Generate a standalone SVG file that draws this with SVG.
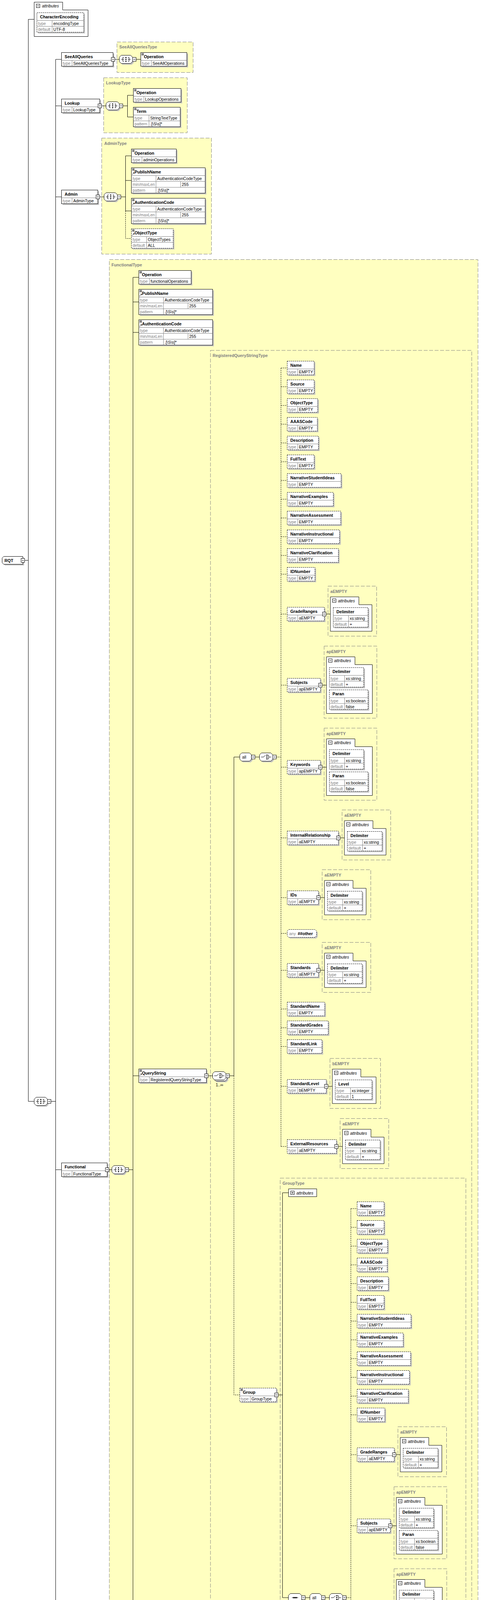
<svg xmlns="http://www.w3.org/2000/svg" width="1242" height="5677" viewBox="0 0 1242 5677">
<style>
.sh{fill:#c0c0c0;stroke:none}
.w{fill:#fff;stroke:#000;stroke-width:1}
.wd{fill:#fff;stroke:#000;stroke-width:1;stroke-dasharray:3,2}
.rl{fill:none;stroke:#808080;stroke-width:1}
.ty{fill:#ffffc0;stroke:#808080;stroke-width:1;stroke-dasharray:10,4}
.ln{fill:none;stroke:#000;stroke-width:1}
.ld{fill:none;stroke:#000;stroke-width:1;stroke-dasharray:3,2}
text{font-family:"Liberation Sans",Arial,Helvetica,sans-serif;font-size:10.5px}
.n{font-weight:bold;font-size:10.7px;fill:#000}
.l{fill:#808080}
.v{fill:#000}
.t{font-weight:bold;font-size:10.7px;fill:#808080}
.i{font-style:italic;fill:#000}
.f{font-weight:bold;font-size:12px;fill:#444}
</style>
<defs>
<path id="o34" d="M5,0H29L34,5V16L29,21H5L0,16V5Z"/>
<path id="o30" d="M5,0H25L30,5V16L25,21H5L0,16V5Z"/>
<path id="oany" d="M4,0H71L75,4V16L71,20H4L0,16V4Z"/>
<g id="xb"><rect width="9" height="10" fill="#fff" stroke="#000"/><path d="M2,5H7" stroke="#000"/></g>
<g id="mb"><rect width="9" height="9" fill="#fff" stroke="#000"/><path d="M2,4.5H7" stroke="#000"/></g>
<g id="pb"><rect width="9" height="9" fill="#fff" stroke="#000"/><path d="M2,4.5H7M4.5,2V7" stroke="#000"/></g>
<path id="eq" d="M2,2.5H8M2,4.5H8M2,6.5H8" stroke="#000" fill="none"/>
<g id="ar"><path d="M2,17.5L5.5,14" stroke="#000" fill="none"/><path d="M4,12H7.5V15.5Z" fill="#000"/></g>
<g id="ya"><path d="M5,10.5H12M12,5.5H9V15.5H12M22,5.5H25V15.5H22M22,10.5H29" fill="none" stroke="#000"/><rect x="15.5" y="4.5" width="3" height="2.5"/><rect x="15.5" y="9.25" width="3" height="2.5"/><rect x="15.5" y="14" width="3" height="2.5"/></g>
<g id="ys"><path d="M9,10.5H25" fill="none" stroke="#000"/><rect x="12" y="9" width="3" height="3"/><rect x="15.5" y="9" width="3" height="3"/><rect x="19" y="9" width="3" height="3"/></g>
<g id="yc"><path d="M4,10.5H10.5L15.5,5.5M21,5.5H23.5V15.5H21M23.5,10.5H30" fill="none" stroke="#000"/><rect x="17.5" y="4.5" width="3" height="2.5"/><rect x="17.5" y="9.25" width="3" height="2.5"/><rect x="17.5" y="14" width="3" height="2.5"/></g>
</defs>
<rect width="1242" height="5677" fill="#fff"/>

<g id="types">
<g id="t-SeeAllQueriesType"><rect class="ty" x="299.5" y="107.5" width="195" height="78"/><text class="t" x="305.5" y="124">SeeAllQueriesType</text></g>
<g id="t-LookupType"><rect class="ty" x="265.5" y="199" width="214" height="141"/><text class="t" x="271.5" y="215.5">LookupType</text></g>
<g id="t-AdminType"><rect class="ty" x="260.5" y="353.5" width="281" height="297"/><text class="t" x="267" y="370.5">AdminType</text></g>
<g id="t-FunctionalType"><rect class="ty" x="280" y="664.5" width="944" height="4656"/><text class="t" x="285.5" y="681.5">FunctionalType</text></g>
<g id="t-RegisteredQueryStringType"><rect class="ty" x="539" y="897" width="669" height="4281.5"/><text class="t" x="544.5" y="914">RegisteredQueryStringType</text></g>
<g id="t-list1">
<rect class="ty" x="840" y="1500.5" width="124.5" height="128"/><text class="t" x="846" y="1518">aEMPTY</text>
<rect class="ty" x="830" y="1654" width="135" height="184.5"/><text class="t" x="836" y="1671.5">apEMPTY</text>
<rect class="ty" x="830" y="1864" width="135" height="184.5"/><text class="t" x="836" y="1881.5">apEMPTY</text>
<rect class="ty" x="876" y="2073.5" width="124.5" height="128"/><text class="t" x="882" y="2091">aEMPTY</text>
<rect class="ty" x="825" y="2226.5" width="124.5" height="128"/><text class="t" x="831" y="2244">aEMPTY</text>
<rect class="ty" x="825" y="2412.5" width="124.5" height="128"/><text class="t" x="831" y="2430">aEMPTY</text>
<rect class="ty" x="845" y="2709.5" width="129.5" height="128"/><text class="t" x="851" y="2727">bEMPTY</text>
<rect class="ty" x="871" y="2863.5" width="124.5" height="128"/><text class="t" x="877" y="2881">aEMPTY</text>
</g>
<g id="t-GroupType"><rect class="ty" x="717.5" y="3016" width="475.5" height="2150"/><text class="t" x="723.5" y="3033">GroupType</text></g>
<g id="t-list2" transform="translate(179,2152)">
<rect class="ty" x="840" y="1500.5" width="124.5" height="128"/><text class="t" x="846" y="1518">aEMPTY</text>
<rect class="ty" x="830" y="1654" width="135" height="184.5"/><text class="t" x="836" y="1671.5">apEMPTY</text>
<rect class="ty" x="830" y="1864" width="135" height="184.5"/><text class="t" x="836" y="1881.5">apEMPTY</text>
<rect class="ty" x="876" y="2073.5" width="124.5" height="128"/><text class="t" x="882" y="2091">aEMPTY</text>
<rect class="ty" x="825" y="2226.5" width="124.5" height="128"/><text class="t" x="831" y="2244">aEMPTY</text>
<rect class="ty" x="825" y="2412.5" width="124.5" height="128"/><text class="t" x="831" y="2430">aEMPTY</text>
<rect class="ty" x="845" y="2709.5" width="129.5" height="128"/><text class="t" x="851" y="2727">bEMPTY</text>
<rect class="ty" x="871" y="2863.5" width="124.5" height="128"/><text class="t" x="877" y="2881">aEMPTY</text>
</g>
<g id="t-AuthenticationCode"><rect class="ty" x="301" y="5333.5" width="280.5" height="312.5"/><text class="t" x="307.5" y="5351">AuthenticationCode</text></g>
</g>

<g id="connectors">
<path class="ln" d="M63,1434.5H72.5M72.5,49.5V2819.5M72.5,49.5H87.5M72.5,2819.5H87.5M130.5,2819.5H142.5M142.5,152V5488M142.5,152H157.5M142.5,271H157.5M142.5,504H157.5M142.5,2994.5H157.5M142.5,5488H157.5"/>
<path class="ln" d="M294,152H305.5M348.5,152H360.5"/>
<path class="ln" d="M260,271H271.5M314.5,271H326.5M326.5,244V299.5M326.5,244H341.5M326.5,299.5H341.5"/>
<path class="ln" d="M255,504H266.5M309.5,504H321.5M321.5,399V540M321.5,399H336.5M321.5,462H336.5M321.5,540H336.5"/>
<path class="ld" d="M321.5,540V610.5H336.5"/>
<path class="ln" d="M279,2994.5H286.5M329.5,2994.5H340.5M340.5,710V5279.5M340.5,710H355.5M340.5,773H355.5M340.5,851H355.5M340.5,2754H355.5M340.5,5279.5H355.5"/>
<path class="ld" d="M340.5,5216.5H355.5"/>
<path class="ln" d="M533,2754H544.5M587.5,2754H599M599,1938V2754M599,1938H614M653,1938H664.5"/>
<path class="ld" d="M599,2754V3571H614M707.5,1938H719.5"/>
<path class="ln" d="M712.5,3571H723.5M723.5,3053.5V4090M723.5,3053.5H739M723.5,4090H738.5M781.5,4090H793.5M832.5,4090H843.5"/>
<path class="ld" d="M886.5,4090H898.5"/>
<g id="c-list1">
<path class="ld" d="M719.5,942V2935M719.5,942H735.5M719.5,990H735.5M719.5,1038H735.5M719.5,1086H735.5M719.5,1134H735.5M719.5,1182H735.5M719.5,1230H735.5M719.5,1278H735.5M719.5,1326H735.5M719.5,1374H735.5M719.5,1422H735.5M719.5,1470H735.5M719.5,1572H735.5M719.5,1754H735.5M719.5,1964H735.5M719.5,2145H735.5M719.5,2298H735.5M719.5,2389.5H735.5M719.5,2484H735.5M719.5,2583H735.5M719.5,2631H735.5M719.5,2679H735.5M719.5,2781H735.5M719.5,2935H735.5"/>
<path class="ln" d="M835,1572H846M825,1754H836M825,1964H836M871,2145H882M820,2298H831M820,2484H831M840,2781H851M866,2935H877"/>
</g>
<g id="c-list2" transform="translate(179,2152)">
<path class="ld" d="M719.5,942V2935M719.5,942H735.5M719.5,990H735.5M719.5,1038H735.5M719.5,1086H735.5M719.5,1134H735.5M719.5,1182H735.5M719.5,1230H735.5M719.5,1278H735.5M719.5,1326H735.5M719.5,1374H735.5M719.5,1422H735.5M719.5,1470H735.5M719.5,1572H735.5M719.5,1754H735.5M719.5,1964H735.5M719.5,2145H735.5M719.5,2298H735.5M719.5,2389.5H735.5M719.5,2484H735.5M719.5,2583H735.5M719.5,2631H735.5M719.5,2679H735.5M719.5,2781H735.5M719.5,2935H735.5"/>
<path class="ln" d="M835,1572H846M825,1754H836M825,1964H836M871,2145H882M820,2298H831M820,2484H831M840,2781H851M866,2935H877"/>
</g>
<path class="ln" d="M294,5488H306.5M349.5,5488H361.5M361.5,5379V5598M361.5,5379H377.5M361.5,5442H377.5M361.5,5520H377.5M361.5,5598H377.5"/>
</g>

<g id="nodes">
<g id="n-RQT" transform="translate(5.5,1424.5)"><path class="sh" d="M7,3H56V23H7L3,19V7Z"/><path class="w" d="M4,0H53V20H4L0,16V4Z"/><text class="n" x="6" y="14">RQT</text><use href="#xb" x="48.5" y="5"/></g>
<g id="n-RQT-attributes" transform="translate(87.5,5.5)"><path class="w" d="M0,0H73V20H138V88H0Z"/><use href="#mb" x="5.5" y="5"/><text class="i" x="20" y="13.5">attributes</text></g>
<g id="n-CharacterEncoding" transform="translate(94.5,32.5)"><rect class="sh" x="3" y="3" width="120" height="50"/><rect class="wd" width="120" height="50"/><path class="rl" d="M0,20H120M0,35H120M39,20V50"/><text class="n" x="8" y="14">CharacterEncoding</text><text class="l" x="3" y="31.5">type</text><text class="v" x="42" y="31.5">encodingType</text><text class="l" x="3" y="46.5">default</text><text class="v" x="42" y="46.5">UTF-8</text></g>
<g id="n-RQT-model" transform="translate(87.5,2809)"><use href="#o34" class="sh" x="3" y="3"/><use href="#o34" class="w"/><use href="#ya"/><use href="#xb" x="34" y="5.5"/></g>

<g id="n-SeeAllQueries" transform="translate(157.5,134.5)"><rect class="sh" x="3" y="3" width="132" height="35"/><rect class="w" width="132" height="35"/><path class="rl" d="M0,20H132M27,20V35"/><text class="n" x="8" y="14">SeeAllQueries</text><text class="l" x="3" y="31.5">type</text><text class="v" x="30" y="31.5">SeeAllQueriesType</text><use href="#xb" x="127.5" y="12.5"/></g>
<g id="n-SeeAllQueries-model" transform="translate(305.5,141.5)"><use href="#o34" class="sh" x="3" y="3"/><use href="#o34" class="w"/><use href="#ya"/><use href="#xb" x="34" y="5.5"/></g>
<g id="n-SeeAllQueries-Operation" transform="translate(360.5,134.5)"><rect class="sh" x="3" y="3" width="118" height="35"/><rect class="w" width="118" height="35"/><path class="rl" d="M0,20H118M27,20V35"/><use href="#eq"/><text class="n" x="8" y="14">Operation</text><text class="l" x="3" y="31.5">type</text><text class="v" x="30" y="31.5">SeeAllOperations</text></g>

<g id="n-Lookup" transform="translate(157.5,253.5)"><rect class="sh" x="3" y="3" width="98" height="35"/><rect class="w" width="98" height="35"/><path class="rl" d="M0,20H98M27,20V35"/><text class="n" x="8" y="14">Lookup</text><text class="l" x="3" y="31.5">type</text><text class="v" x="30" y="31.5">LookupType</text><use href="#xb" x="93.5" y="12.5"/></g>
<g id="n-Lookup-model" transform="translate(271.5,260.5)"><use href="#o34" class="sh" x="3" y="3"/><use href="#o34" class="w"/><use href="#ya"/><use href="#xb" x="34" y="5.5"/></g>
<g id="n-Lookup-Operation" transform="translate(341.5,226.5)"><rect class="sh" x="3" y="3" width="122" height="35"/><rect class="w" width="122" height="35"/><path class="rl" d="M0,20H122M27,20V35"/><use href="#eq"/><text class="n" x="8" y="14">Operation</text><text class="l" x="3" y="31.5">type</text><text class="v" x="30" y="31.5">LookupOperations</text></g>
<g id="n-Lookup-Term" transform="translate(341.5,274.5)"><rect class="sh" x="3" y="3" width="120" height="50"/><rect class="w" width="120" height="50"/><path class="rl" d="M0,20H120M0,35H120M40,20V50"/><use href="#eq"/><text class="n" x="8" y="14">Term</text><text class="l" x="3" y="31.5">type</text><text class="v" x="43" y="31.5">StringTextType</text><text class="l" x="3" y="46.5">pattern</text><text class="v" x="43" y="46.5">.[\S\s]*</text></g>

<g id="n-Admin" transform="translate(157.5,486.5)"><rect class="sh" x="3" y="3" width="93" height="35"/><rect class="w" width="93" height="35"/><path class="rl" d="M0,20H93M27,20V35"/><text class="n" x="8" y="14">Admin</text><text class="l" x="3" y="31.5">type</text><text class="v" x="30" y="31.5">AdminType</text><use href="#xb" x="88.5" y="12.5"/></g>
<g id="n-Admin-model" transform="translate(266.5,493.5)"><use href="#o34" class="sh" x="3" y="3"/><use href="#o34" class="w"/><use href="#ya"/><use href="#xb" x="34" y="5.5"/></g>
<g id="n-Admin-Operation" transform="translate(336.5,381.5)"><rect class="sh" x="3" y="3" width="115" height="35"/><rect class="w" width="115" height="35"/><path class="rl" d="M0,20H115M27,20V35"/><use href="#eq"/><text class="n" x="8" y="14">Operation</text><text class="l" x="3" y="31.5">type</text><text class="v" x="30" y="31.5">adminOperations</text></g>
<g id="n-Admin-PublishName" transform="translate(336.5,429.5)"><rect class="sh" x="3" y="3" width="189" height="65"/><rect class="w" width="189" height="65"/><path class="rl" d="M0,20H189M0,35H189M0,50H189M63,20V65M126,35V50"/><use href="#eq"/><use href="#ar"/><text class="n" x="8" y="14">PublishName</text><text class="l" x="3" y="31.5">type</text><text class="v" x="66" y="31.5">AuthenticationCodeType</text><text class="l" x="3" y="46.5">min/maxLen</text><text class="v" x="129" y="46.5">255</text><text class="l" x="3" y="61.5">pattern</text><text class="v" x="66" y="61.5">.[\S\s]*</text></g>
<g id="n-Admin-AuthenticationCode" transform="translate(336.5,507.5)"><rect class="sh" x="3" y="3" width="189" height="65"/><rect class="w" width="189" height="65"/><path class="rl" d="M0,20H189M0,35H189M0,50H189M63,20V65M126,35V50"/><use href="#eq"/><use href="#ar"/><text class="n" x="8" y="14">AuthenticationCode</text><text class="l" x="3" y="31.5">type</text><text class="v" x="66" y="31.5">AuthenticationCodeType</text><text class="l" x="3" y="46.5">min/maxLen</text><text class="v" x="129" y="46.5">255</text><text class="l" x="3" y="61.5">pattern</text><text class="v" x="66" y="61.5">.[\S\s]*</text></g>
<g id="n-Admin-ObjectType" transform="translate(336.5,585.5)"><rect class="sh" x="3" y="3" width="107" height="50"/><rect class="wd" width="107" height="50"/><path class="rl" d="M0,20H107M0,35H107M39,20V50"/><use href="#eq"/><use href="#ar"/><text class="n" x="8" y="14">ObjectType</text><text class="l" x="3" y="31.5">type</text><text class="v" x="42" y="31.5">ObjectTypes</text><text class="l" x="3" y="46.5">default</text><text class="v" x="42" y="46.5">ALL</text></g>

<g id="n-Functional" transform="translate(157.5,2977)"><rect class="sh" x="3" y="3" width="117" height="35"/><rect class="w" width="117" height="35"/><path class="rl" d="M0,20H117M27,20V35"/><text class="n" x="8" y="14">Functional</text><text class="l" x="3" y="31.5">type</text><text class="v" x="30" y="31.5">FunctionalType</text><use href="#xb" x="112.5" y="12.5"/></g>
<g id="n-Functional-model" transform="translate(286.5,2984)"><use href="#o34" class="sh" x="3" y="3"/><use href="#o34" class="w"/><use href="#ya"/><use href="#xb" x="34" y="5.5"/></g>
<g id="n-Functional-Operation" transform="translate(355.5,692.5)"><rect class="sh" x="3" y="3" width="134" height="35"/><rect class="w" width="134" height="35"/><path class="rl" d="M0,20H134M27,20V35"/><use href="#eq"/><text class="n" x="8" y="14">Operation</text><text class="l" x="3" y="31.5">type</text><text class="v" x="30" y="31.5">functionalOperations</text></g>
<g id="n-Functional-PublishName" transform="translate(355.5,740.5)"><rect class="sh" x="3" y="3" width="189" height="65"/><rect class="w" width="189" height="65"/><path class="rl" d="M0,20H189M0,35H189M0,50H189M63,20V65M126,35V50"/><use href="#eq"/><use href="#ar"/><text class="n" x="8" y="14">PublishName</text><text class="l" x="3" y="31.5">type</text><text class="v" x="66" y="31.5">AuthenticationCodeType</text><text class="l" x="3" y="46.5">min/maxLen</text><text class="v" x="129" y="46.5">255</text><text class="l" x="3" y="61.5">pattern</text><text class="v" x="66" y="61.5">.[\S\s]*</text></g>
<g id="n-Functional-AuthenticationCode" transform="translate(355.5,818.5)"><rect class="sh" x="3" y="3" width="189" height="65"/><rect class="w" width="189" height="65"/><path class="rl" d="M0,20H189M0,35H189M0,50H189M63,20V65M126,35V50"/><use href="#eq"/><use href="#ar"/><text class="n" x="8" y="14">AuthenticationCode</text><text class="l" x="3" y="31.5">type</text><text class="v" x="66" y="31.5">AuthenticationCodeType</text><text class="l" x="3" y="46.5">min/maxLen</text><text class="v" x="129" y="46.5">255</text><text class="l" x="3" y="61.5">pattern</text><text class="v" x="66" y="61.5">.[\S\s]*</text></g>
<g id="n-QueryString" transform="translate(355.5,2736.5)"><rect class="sh" x="3" y="3" width="173" height="35"/><rect class="w" width="173" height="35"/><path class="rl" d="M0,20H173M27,20V35"/><use href="#eq"/><use href="#ar"/><text class="n" x="8" y="14">QueryString</text><text class="l" x="3" y="31.5">type</text><text class="v" x="30" y="31.5">RegisteredQueryStringType</text><use href="#xb" x="168.5" y="12.5"/></g>
<g id="n-QueryHost" transform="translate(355.5,5191.5)"><rect class="sh" x="3" y="3" width="121" height="50"/><rect class="wd" width="121" height="50"/><path class="rl" d="M0,20H121M0,35H121M40,20V50"/><use href="#eq"/><use href="#ar"/><text class="n" x="8" y="14">QueryHost</text><text class="l" x="3" y="31.5">type</text><text class="v" x="43" y="31.5">StringTextType</text><text class="l" x="3" y="46.5">pattern</text><text class="v" x="43" y="46.5">.[\S\s]*</text></g>
<g id="n-Functional-ObjectType" transform="translate(355.5,5254.5)"><rect class="sh" x="3" y="3" width="107" height="50"/><rect class="w" width="107" height="50"/><path class="rl" d="M0,20H107M0,35H107M39,20V50"/><use href="#eq"/><use href="#ar"/><text class="n" x="8" y="14">ObjectType</text><text class="l" x="3" y="31.5">type</text><text class="v" x="42" y="31.5">ObjectTypes</text><text class="l" x="3" y="46.5">default</text><text class="v" x="42" y="46.5">ALL</text></g>

<g id="n-QueryString-choice" transform="translate(544.5,2743.5)"><use href="#o34" class="sh" x="6" y="6"/><use href="#o34" class="w" x="3" y="3"/><use href="#o34" class="w"/><use href="#yc"/><use href="#xb" x="34" y="5.5"/><text class="v" x="8" y="37.5">1..∞</text></g>
<g id="q1-all" transform="translate(614,1927.5)"><use href="#o30" class="sh" x="3" y="3"/><use href="#o30" class="w"/><text class="v" x="6" y="14.5">all</text><use href="#xb" x="30" y="5.5"/></g>
<g id="q1-choice" transform="translate(664.5,1927.5)"><use href="#o34" class="sh" x="3" y="3"/><use href="#o34" class="w"/><use href="#yc"/><use href="#xb" x="34" y="5.5"/></g>

<g id="list1">
<g id="q1-Name" transform="translate(735.5,924.5)"><rect class="sh" x="3" y="3" width="69" height="35"/><rect class="wd" width="69" height="35"/><path class="rl" d="M0,20H69M27,20V35"/><text class="n" x="8" y="14">Name</text><text class="l" x="3" y="31.5">type</text><text class="v" x="30" y="31.5">EMPTY</text></g>
<g id="q1-Source" transform="translate(735.5,972.5)"><rect class="sh" x="3" y="3" width="69" height="35"/><rect class="wd" width="69" height="35"/><path class="rl" d="M0,20H69M27,20V35"/><text class="n" x="8" y="14">Source</text><text class="l" x="3" y="31.5">type</text><text class="v" x="30" y="31.5">EMPTY</text></g>
<g id="q1-ObjectType" transform="translate(735.5,1020.5)"><rect class="sh" x="3" y="3" width="78" height="35"/><rect class="wd" width="78" height="35"/><path class="rl" d="M0,20H78M27,20V35"/><text class="n" x="8" y="14">ObjectType</text><text class="l" x="3" y="31.5">type</text><text class="v" x="30" y="31.5">EMPTY</text></g>
<g id="q1-AAASCode" transform="translate(735.5,1068.5)"><rect class="sh" x="3" y="3" width="77" height="35"/><rect class="wd" width="77" height="35"/><path class="rl" d="M0,20H77M27,20V35"/><text class="n" x="8" y="14">AAASCode</text><text class="l" x="3" y="31.5">type</text><text class="v" x="30" y="31.5">EMPTY</text></g>
<g id="q1-Description" transform="translate(735.5,1116.5)"><rect class="sh" x="3" y="3" width="80" height="35"/><rect class="wd" width="80" height="35"/><path class="rl" d="M0,20H80M27,20V35"/><text class="n" x="8" y="14">Description</text><text class="l" x="3" y="31.5">type</text><text class="v" x="30" y="31.5">EMPTY</text></g>
<g id="q1-FullText" transform="translate(735.5,1164.5)"><rect class="sh" x="3" y="3" width="69" height="35"/><rect class="wd" width="69" height="35"/><path class="rl" d="M0,20H69M27,20V35"/><text class="n" x="8" y="14">FullText</text><text class="l" x="3" y="31.5">type</text><text class="v" x="30" y="31.5">EMPTY</text></g>
<g id="q1-NarrativeStudentIdeas" transform="translate(735.5,1212.5)"><rect class="sh" x="3" y="3" width="138" height="35"/><rect class="wd" width="138" height="35"/><path class="rl" d="M0,20H138M27,20V35"/><text class="n" x="8" y="14">NarrativeStudentIdeas</text><text class="l" x="3" y="31.5">type</text><text class="v" x="30" y="31.5">EMPTY</text></g>
<g id="q1-NarrativeExamples" transform="translate(735.5,1260.5)"><rect class="sh" x="3" y="3" width="118" height="35"/><rect class="wd" width="118" height="35"/><path class="rl" d="M0,20H118M27,20V35"/><text class="n" x="8" y="14">NarrativeExamples</text><text class="l" x="3" y="31.5">type</text><text class="v" x="30" y="31.5">EMPTY</text></g>
<g id="q1-NarrativeAssessment" transform="translate(735.5,1308.5)"><rect class="sh" x="3" y="3" width="137" height="35"/><rect class="wd" width="137" height="35"/><path class="rl" d="M0,20H137M27,20V35"/><text class="n" x="8" y="14">NarrativeAssessment</text><text class="l" x="3" y="31.5">type</text><text class="v" x="30" y="31.5">EMPTY</text></g>
<g id="q1-NarrativeInstructional" transform="translate(735.5,1356.5)"><rect class="sh" x="3" y="3" width="134" height="35"/><rect class="wd" width="134" height="35"/><path class="rl" d="M0,20H134M27,20V35"/><text class="n" x="8" y="14">NarrativeInstructional</text><text class="l" x="3" y="31.5">type</text><text class="v" x="30" y="31.5">EMPTY</text></g>
<g id="q1-NarrativeClarification" transform="translate(735.5,1404.5)"><rect class="sh" x="3" y="3" width="131" height="35"/><rect class="wd" width="131" height="35"/><path class="rl" d="M0,20H131M27,20V35"/><text class="n" x="8" y="14">NarrativeClarification</text><text class="l" x="3" y="31.5">type</text><text class="v" x="30" y="31.5">EMPTY</text></g>
<g id="q1-IDNumber" transform="translate(735.5,1452.5)"><rect class="sh" x="3" y="3" width="71" height="35"/><rect class="wd" width="71" height="35"/><path class="rl" d="M0,20H71M27,20V35"/><text class="n" x="8" y="14">IDNumber</text><text class="l" x="3" y="31.5">type</text><text class="v" x="30" y="31.5">EMPTY</text></g>

<g id="q1-GradeRanges" transform="translate(735.5,1554.5)"><rect class="sh" x="3" y="3" width="95" height="35"/><rect class="wd" width="95" height="35"/><path class="rl" d="M0,20H95M27,20V35"/><text class="n" x="8" y="14">GradeRanges</text><text class="l" x="3" y="31.5">type</text><text class="v" x="30" y="31.5">aEMPTY</text><use href="#xb" x="90.5" y="12.5"/></g>
<g id="q1-GradeRanges-attributes" transform="translate(830.5,1554.5)"><path class="w" d="M15.5,-26.5H88.5V-6.5H122V61.5H15.5Z"/><use href="#mb" x="21" y="-21.5"/><text class="i" x="35" y="-13">attributes</text></g>
<g id="q1-GradeRanges-Delimiter" transform="translate(853.5,1555.5)"><rect class="sh" x="3" y="3" width="89" height="50"/><rect class="wd" width="89" height="50"/><path class="rl" d="M0,20H89M0,35H89M39,20V50"/><text class="n" x="8" y="14">Delimiter</text><text class="l" x="3" y="31.5">type</text><text class="v" x="42" y="31.5">xs:string</text><text class="l" x="3" y="46.5">default</text><text class="v" x="42" y="46.5">+</text></g>

<g id="q1-Subjects" transform="translate(735.5,1736.5)"><rect class="sh" x="3" y="3" width="85" height="35"/><rect class="wd" width="85" height="35"/><path class="rl" d="M0,20H85M27,20V35"/><text class="n" x="8" y="14">Subjects</text><text class="l" x="3" y="31.5">type</text><text class="v" x="30" y="31.5">apEMPTY</text><use href="#xb" x="80.5" y="12.5"/></g>
<g id="q1-Subjects-attributes" transform="translate(820.5,1736.5)"><path class="w" d="M15.5,-55H88.5V-35H133V90H15.5Z"/><use href="#mb" x="21" y="-50"/><text class="i" x="35" y="-41.5">attributes</text></g>
<g id="q1-Subjects-Delimiter" transform="translate(843.5,1709)"><rect class="sh" x="3" y="3" width="88" height="50"/><rect class="wd" width="88" height="50"/><path class="rl" d="M0,20H88M0,35H88M39,20V50"/><text class="n" x="8" y="14">Delimiter</text><text class="l" x="3" y="31.5">type</text><text class="v" x="42" y="31.5">xs:string</text><text class="l" x="3" y="46.5">default</text><text class="v" x="42" y="46.5">+</text></g>
<g id="q1-Subjects-Paran" transform="translate(843.5,1766)"><rect class="sh" x="3" y="3" width="99" height="50"/><rect class="wd" width="99" height="50"/><path class="rl" d="M0,20H99M0,35H99M39,20V50"/><text class="n" x="8" y="14">Paran</text><text class="l" x="3" y="31.5">type</text><text class="v" x="42" y="31.5">xs:boolean</text><text class="l" x="3" y="46.5">default</text><text class="v" x="42" y="46.5">false</text></g>

<g id="q1-Keywords" transform="translate(735.5,1946.5)"><rect class="sh" x="3" y="3" width="85" height="35"/><rect class="wd" width="85" height="35"/><path class="rl" d="M0,20H85M27,20V35"/><text class="n" x="8" y="14">Keywords</text><text class="l" x="3" y="31.5">type</text><text class="v" x="30" y="31.5">apEMPTY</text><use href="#xb" x="80.5" y="12.5"/></g>
<g id="q1-Keywords-attributes" transform="translate(820.5,1946.5)"><path class="w" d="M15.5,-55H88.5V-35H133V90H15.5Z"/><use href="#mb" x="21" y="-50"/><text class="i" x="35" y="-41.5">attributes</text></g>
<g id="q1-Keywords-Delimiter" transform="translate(843.5,1919)"><rect class="sh" x="3" y="3" width="88" height="50"/><rect class="wd" width="88" height="50"/><path class="rl" d="M0,20H88M0,35H88M39,20V50"/><text class="n" x="8" y="14">Delimiter</text><text class="l" x="3" y="31.5">type</text><text class="v" x="42" y="31.5">xs:string</text><text class="l" x="3" y="46.5">default</text><text class="v" x="42" y="46.5">+</text></g>
<g id="q1-Keywords-Paran" transform="translate(843.5,1976)"><rect class="sh" x="3" y="3" width="99" height="50"/><rect class="wd" width="99" height="50"/><path class="rl" d="M0,20H99M0,35H99M39,20V50"/><text class="n" x="8" y="14">Paran</text><text class="l" x="3" y="31.5">type</text><text class="v" x="42" y="31.5">xs:boolean</text><text class="l" x="3" y="46.5">default</text><text class="v" x="42" y="46.5">false</text></g>

<g id="q1-InternalRelationship" transform="translate(735.5,2127.5)"><rect class="sh" x="3" y="3" width="131" height="35"/><rect class="wd" width="131" height="35"/><path class="rl" d="M0,20H131M27,20V35"/><text class="n" x="8" y="14">InternalRelationship</text><text class="l" x="3" y="31.5">type</text><text class="v" x="30" y="31.5">aEMPTY</text><use href="#xb" x="126.5" y="12.5"/></g>
<g id="q1-InternalRelationship-attributes" transform="translate(866.5,2127.5)"><path class="w" d="M15.5,-26.5H88.5V-6.5H122V61.5H15.5Z"/><use href="#mb" x="21" y="-21.5"/><text class="i" x="35" y="-13">attributes</text></g>
<g id="q1-InternalRelationship-Delimiter" transform="translate(889.5,2128.5)"><rect class="sh" x="3" y="3" width="89" height="50"/><rect class="wd" width="89" height="50"/><path class="rl" d="M0,20H89M0,35H89M39,20V50"/><text class="n" x="8" y="14">Delimiter</text><text class="l" x="3" y="31.5">type</text><text class="v" x="42" y="31.5">xs:string</text><text class="l" x="3" y="46.5">default</text><text class="v" x="42" y="46.5">+</text></g>

<g id="q1-IDs" transform="translate(735.5,2280.5)"><rect class="sh" x="3" y="3" width="80" height="35"/><rect class="wd" width="80" height="35"/><path class="rl" d="M0,20H80M27,20V35"/><text class="n" x="8" y="14">IDs</text><text class="l" x="3" y="31.5">type</text><text class="v" x="30" y="31.5">aEMPTY</text><use href="#xb" x="75.5" y="12.5"/></g>
<g id="q1-IDs-attributes" transform="translate(815.5,2280.5)"><path class="w" d="M15.5,-26.5H88.5V-6.5H122V61.5H15.5Z"/><use href="#mb" x="21" y="-21.5"/><text class="i" x="35" y="-13">attributes</text></g>
<g id="q1-IDs-Delimiter" transform="translate(838.5,2281.5)"><rect class="sh" x="3" y="3" width="89" height="50"/><rect class="wd" width="89" height="50"/><path class="rl" d="M0,20H89M0,35H89M39,20V50"/><text class="n" x="8" y="14">Delimiter</text><text class="l" x="3" y="31.5">type</text><text class="v" x="42" y="31.5">xs:string</text><text class="l" x="3" y="46.5">default</text><text class="v" x="42" y="46.5">+</text></g>

<g id="q1-any" transform="translate(735.5,2379.5)"><use href="#oany" class="sh" x="3" y="3"/><use href="#oany" class="wd"/><text class="l" x="5" y="14">any</text><text class="n" x="27" y="14">##other</text></g>

<g id="q1-Standards" transform="translate(735.5,2466.5)"><rect class="sh" x="3" y="3" width="80" height="35"/><rect class="wd" width="80" height="35"/><path class="rl" d="M0,20H80M27,20V35"/><text class="n" x="8" y="14">Standards</text><text class="l" x="3" y="31.5">type</text><text class="v" x="30" y="31.5">aEMPTY</text><use href="#xb" x="75.5" y="12.5"/></g>
<g id="q1-Standards-attributes" transform="translate(815.5,2466.5)"><path class="w" d="M15.5,-26.5H88.5V-6.5H122V61.5H15.5Z"/><use href="#mb" x="21" y="-21.5"/><text class="i" x="35" y="-13">attributes</text></g>
<g id="q1-Standards-Delimiter" transform="translate(838.5,2467.5)"><rect class="sh" x="3" y="3" width="89" height="50"/><rect class="wd" width="89" height="50"/><path class="rl" d="M0,20H89M0,35H89M39,20V50"/><text class="n" x="8" y="14">Delimiter</text><text class="l" x="3" y="31.5">type</text><text class="v" x="42" y="31.5">xs:string</text><text class="l" x="3" y="46.5">default</text><text class="v" x="42" y="46.5">+</text></g>

<g id="q1-StandardName" transform="translate(735.5,2565.5)"><rect class="sh" x="3" y="3" width="96" height="35"/><rect class="wd" width="96" height="35"/><path class="rl" d="M0,20H96M27,20V35"/><text class="n" x="8" y="14">StandardName</text><text class="l" x="3" y="31.5">type</text><text class="v" x="30" y="31.5">EMPTY</text></g>
<g id="q1-StandardGrades" transform="translate(735.5,2613.5)"><rect class="sh" x="3" y="3" width="105" height="35"/><rect class="wd" width="105" height="35"/><path class="rl" d="M0,20H105M27,20V35"/><text class="n" x="8" y="14">StandardGrades</text><text class="l" x="3" y="31.5">type</text><text class="v" x="30" y="31.5">EMPTY</text></g>
<g id="q1-StandardLink" transform="translate(735.5,2661.5)"><rect class="sh" x="3" y="3" width="89" height="35"/><rect class="wd" width="89" height="35"/><path class="rl" d="M0,20H89M27,20V35"/><text class="n" x="8" y="14">StandardLink</text><text class="l" x="3" y="31.5">type</text><text class="v" x="30" y="31.5">EMPTY</text></g>

<g id="q1-StandardLevel" transform="translate(735.5,2763.5)"><rect class="sh" x="3" y="3" width="100" height="35"/><rect class="wd" width="100" height="35"/><path class="rl" d="M0,20H100M27,20V35"/><text class="n" x="8" y="14">StandardLevel</text><text class="l" x="3" y="31.5">type</text><text class="v" x="30" y="31.5">bEMPTY</text><use href="#xb" x="95.5" y="12.5"/></g>
<g id="q1-StandardLevel-attributes" transform="translate(835.5,2763.5)"><path class="w" d="M15.5,-26.5H88.5V-6.5H127.5V61.5H15.5Z"/><use href="#mb" x="21" y="-21.5"/><text class="i" x="35" y="-13">attributes</text></g>
<g id="q1-StandardLevel-Level" transform="translate(858.5,2764.5)"><rect class="sh" x="3" y="3" width="94" height="50"/><rect class="wd" width="94" height="50"/><path class="rl" d="M0,20H94M0,35H94M39,20V50"/><text class="n" x="8" y="14">Level</text><text class="l" x="3" y="31.5">type</text><text class="v" x="42" y="31.5">xs:integer</text><text class="l" x="3" y="46.5">default</text><text class="v" x="42" y="46.5">1</text></g>

<g id="q1-ExternalResources" transform="translate(735.5,2917.5)"><rect class="sh" x="3" y="3" width="126" height="35"/><rect class="wd" width="126" height="35"/><path class="rl" d="M0,20H126M27,20V35"/><text class="n" x="8" y="14">ExternalResources</text><text class="l" x="3" y="31.5">type</text><text class="v" x="30" y="31.5">aEMPTY</text><use href="#xb" x="121.5" y="12.5"/></g>
<g id="q1-ExternalResources-attributes" transform="translate(861.5,2917.5)"><path class="w" d="M15.5,-26.5H88.5V-6.5H122V61.5H15.5Z"/><use href="#mb" x="21" y="-21.5"/><text class="i" x="35" y="-13">attributes</text></g>
<g id="q1-ExternalResources-Delimiter" transform="translate(884.5,2918.5)"><rect class="sh" x="3" y="3" width="89" height="50"/><rect class="wd" width="89" height="50"/><path class="rl" d="M0,20H89M0,35H89M39,20V50"/><text class="n" x="8" y="14">Delimiter</text><text class="l" x="3" y="31.5">type</text><text class="v" x="42" y="31.5">xs:string</text><text class="l" x="3" y="46.5">default</text><text class="v" x="42" y="46.5">+</text></g>
</g>

<g id="n-Group" transform="translate(614,3553.5)"><rect class="sh" x="3" y="3" width="94" height="35"/><rect class="wd" width="94" height="35"/><path class="rl" d="M0,20H94M27,20V35"/><use href="#eq"/><text class="n" x="8" y="14">Group</text><text class="l" x="3" y="31.5">type</text><text class="v" x="30" y="31.5">GroupType</text><use href="#xb" x="89.5" y="12.5"/></g>
<g id="n-Group-attributes" transform="translate(739,3043.5)"><rect class="w" width="72" height="20"/><use href="#pb" x="5.5" y="5.5"/><text class="i" x="20" y="14.5">attributes</text></g>
<g id="q2-sequence" transform="translate(738.5,4079.5)"><use href="#o34" class="sh" x="3" y="3"/><use href="#o34" class="w"/><use href="#ys"/><use href="#xb" x="34" y="5.5"/></g>
<g id="q2-all" transform="translate(793.5,4079.5)"><use href="#o30" class="sh" x="6" y="6"/><use href="#o30" class="w" x="3" y="3"/><use href="#o30" class="w"/><text class="v" x="6" y="14.5">all</text><use href="#xb" x="30" y="5.5"/><text class="v" x="8.5" y="37.5">1..∞</text></g>
<g id="q2-choice" transform="translate(843.5,4079.5)"><use href="#o34" class="sh" x="3" y="3"/><use href="#o34" class="w"/><use href="#yc"/><use href="#xb" x="34" y="5.5"/></g>

<g id="list2" transform="translate(179,2152)">
<g id="q2-Name" transform="translate(735.5,924.5)"><rect class="sh" x="3" y="3" width="69" height="35"/><rect class="wd" width="69" height="35"/><path class="rl" d="M0,20H69M27,20V35"/><text class="n" x="8" y="14">Name</text><text class="l" x="3" y="31.5">type</text><text class="v" x="30" y="31.5">EMPTY</text></g>
<g id="q2-Source" transform="translate(735.5,972.5)"><rect class="sh" x="3" y="3" width="69" height="35"/><rect class="wd" width="69" height="35"/><path class="rl" d="M0,20H69M27,20V35"/><text class="n" x="8" y="14">Source</text><text class="l" x="3" y="31.5">type</text><text class="v" x="30" y="31.5">EMPTY</text></g>
<g id="q2-ObjectType" transform="translate(735.5,1020.5)"><rect class="sh" x="3" y="3" width="78" height="35"/><rect class="wd" width="78" height="35"/><path class="rl" d="M0,20H78M27,20V35"/><text class="n" x="8" y="14">ObjectType</text><text class="l" x="3" y="31.5">type</text><text class="v" x="30" y="31.5">EMPTY</text></g>
<g id="q2-AAASCode" transform="translate(735.5,1068.5)"><rect class="sh" x="3" y="3" width="77" height="35"/><rect class="wd" width="77" height="35"/><path class="rl" d="M0,20H77M27,20V35"/><text class="n" x="8" y="14">AAASCode</text><text class="l" x="3" y="31.5">type</text><text class="v" x="30" y="31.5">EMPTY</text></g>
<g id="q2-Description" transform="translate(735.5,1116.5)"><rect class="sh" x="3" y="3" width="80" height="35"/><rect class="wd" width="80" height="35"/><path class="rl" d="M0,20H80M27,20V35"/><text class="n" x="8" y="14">Description</text><text class="l" x="3" y="31.5">type</text><text class="v" x="30" y="31.5">EMPTY</text></g>
<g id="q2-FullText" transform="translate(735.5,1164.5)"><rect class="sh" x="3" y="3" width="69" height="35"/><rect class="wd" width="69" height="35"/><path class="rl" d="M0,20H69M27,20V35"/><text class="n" x="8" y="14">FullText</text><text class="l" x="3" y="31.5">type</text><text class="v" x="30" y="31.5">EMPTY</text></g>
<g id="q2-NarrativeStudentIdeas" transform="translate(735.5,1212.5)"><rect class="sh" x="3" y="3" width="138" height="35"/><rect class="wd" width="138" height="35"/><path class="rl" d="M0,20H138M27,20V35"/><text class="n" x="8" y="14">NarrativeStudentIdeas</text><text class="l" x="3" y="31.5">type</text><text class="v" x="30" y="31.5">EMPTY</text></g>
<g id="q2-NarrativeExamples" transform="translate(735.5,1260.5)"><rect class="sh" x="3" y="3" width="118" height="35"/><rect class="wd" width="118" height="35"/><path class="rl" d="M0,20H118M27,20V35"/><text class="n" x="8" y="14">NarrativeExamples</text><text class="l" x="3" y="31.5">type</text><text class="v" x="30" y="31.5">EMPTY</text></g>
<g id="q2-NarrativeAssessment" transform="translate(735.5,1308.5)"><rect class="sh" x="3" y="3" width="137" height="35"/><rect class="wd" width="137" height="35"/><path class="rl" d="M0,20H137M27,20V35"/><text class="n" x="8" y="14">NarrativeAssessment</text><text class="l" x="3" y="31.5">type</text><text class="v" x="30" y="31.5">EMPTY</text></g>
<g id="q2-NarrativeInstructional" transform="translate(735.5,1356.5)"><rect class="sh" x="3" y="3" width="134" height="35"/><rect class="wd" width="134" height="35"/><path class="rl" d="M0,20H134M27,20V35"/><text class="n" x="8" y="14">NarrativeInstructional</text><text class="l" x="3" y="31.5">type</text><text class="v" x="30" y="31.5">EMPTY</text></g>
<g id="q2-NarrativeClarification" transform="translate(735.5,1404.5)"><rect class="sh" x="3" y="3" width="131" height="35"/><rect class="wd" width="131" height="35"/><path class="rl" d="M0,20H131M27,20V35"/><text class="n" x="8" y="14">NarrativeClarification</text><text class="l" x="3" y="31.5">type</text><text class="v" x="30" y="31.5">EMPTY</text></g>
<g id="q2-IDNumber" transform="translate(735.5,1452.5)"><rect class="sh" x="3" y="3" width="71" height="35"/><rect class="wd" width="71" height="35"/><path class="rl" d="M0,20H71M27,20V35"/><text class="n" x="8" y="14">IDNumber</text><text class="l" x="3" y="31.5">type</text><text class="v" x="30" y="31.5">EMPTY</text></g>

<g id="q2-GradeRanges" transform="translate(735.5,1554.5)"><rect class="sh" x="3" y="3" width="95" height="35"/><rect class="wd" width="95" height="35"/><path class="rl" d="M0,20H95M27,20V35"/><text class="n" x="8" y="14">GradeRanges</text><text class="l" x="3" y="31.5">type</text><text class="v" x="30" y="31.5">aEMPTY</text><use href="#xb" x="90.5" y="12.5"/></g>
<g id="q2-GradeRanges-attributes" transform="translate(830.5,1554.5)"><path class="w" d="M15.5,-26.5H88.5V-6.5H122V61.5H15.5Z"/><use href="#mb" x="21" y="-21.5"/><text class="i" x="35" y="-13">attributes</text></g>
<g id="q2-GradeRanges-Delimiter" transform="translate(853.5,1555.5)"><rect class="sh" x="3" y="3" width="89" height="50"/><rect class="wd" width="89" height="50"/><path class="rl" d="M0,20H89M0,35H89M39,20V50"/><text class="n" x="8" y="14">Delimiter</text><text class="l" x="3" y="31.5">type</text><text class="v" x="42" y="31.5">xs:string</text><text class="l" x="3" y="46.5">default</text><text class="v" x="42" y="46.5">+</text></g>

<g id="q2-Subjects" transform="translate(735.5,1736.5)"><rect class="sh" x="3" y="3" width="85" height="35"/><rect class="wd" width="85" height="35"/><path class="rl" d="M0,20H85M27,20V35"/><text class="n" x="8" y="14">Subjects</text><text class="l" x="3" y="31.5">type</text><text class="v" x="30" y="31.5">apEMPTY</text><use href="#xb" x="80.5" y="12.5"/></g>
<g id="q2-Subjects-attributes" transform="translate(820.5,1736.5)"><path class="w" d="M15.5,-55H88.5V-35H133V90H15.5Z"/><use href="#mb" x="21" y="-50"/><text class="i" x="35" y="-41.5">attributes</text></g>
<g id="q2-Subjects-Delimiter" transform="translate(843.5,1709)"><rect class="sh" x="3" y="3" width="88" height="50"/><rect class="wd" width="88" height="50"/><path class="rl" d="M0,20H88M0,35H88M39,20V50"/><text class="n" x="8" y="14">Delimiter</text><text class="l" x="3" y="31.5">type</text><text class="v" x="42" y="31.5">xs:string</text><text class="l" x="3" y="46.5">default</text><text class="v" x="42" y="46.5">+</text></g>
<g id="q2-Subjects-Paran" transform="translate(843.5,1766)"><rect class="sh" x="3" y="3" width="99" height="50"/><rect class="wd" width="99" height="50"/><path class="rl" d="M0,20H99M0,35H99M39,20V50"/><text class="n" x="8" y="14">Paran</text><text class="l" x="3" y="31.5">type</text><text class="v" x="42" y="31.5">xs:boolean</text><text class="l" x="3" y="46.5">default</text><text class="v" x="42" y="46.5">false</text></g>

<g id="q2-Keywords" transform="translate(735.5,1946.5)"><rect class="sh" x="3" y="3" width="85" height="35"/><rect class="wd" width="85" height="35"/><path class="rl" d="M0,20H85M27,20V35"/><text class="n" x="8" y="14">Keywords</text><text class="l" x="3" y="31.5">type</text><text class="v" x="30" y="31.5">apEMPTY</text><use href="#xb" x="80.5" y="12.5"/></g>
<g id="q2-Keywords-attributes" transform="translate(820.5,1946.5)"><path class="w" d="M15.5,-55H88.5V-35H133V90H15.5Z"/><use href="#mb" x="21" y="-50"/><text class="i" x="35" y="-41.5">attributes</text></g>
<g id="q2-Keywords-Delimiter" transform="translate(843.5,1919)"><rect class="sh" x="3" y="3" width="88" height="50"/><rect class="wd" width="88" height="50"/><path class="rl" d="M0,20H88M0,35H88M39,20V50"/><text class="n" x="8" y="14">Delimiter</text><text class="l" x="3" y="31.5">type</text><text class="v" x="42" y="31.5">xs:string</text><text class="l" x="3" y="46.5">default</text><text class="v" x="42" y="46.5">+</text></g>
<g id="q2-Keywords-Paran" transform="translate(843.5,1976)"><rect class="sh" x="3" y="3" width="99" height="50"/><rect class="wd" width="99" height="50"/><path class="rl" d="M0,20H99M0,35H99M39,20V50"/><text class="n" x="8" y="14">Paran</text><text class="l" x="3" y="31.5">type</text><text class="v" x="42" y="31.5">xs:boolean</text><text class="l" x="3" y="46.5">default</text><text class="v" x="42" y="46.5">false</text></g>

<g id="q2-InternalRelationship" transform="translate(735.5,2127.5)"><rect class="sh" x="3" y="3" width="131" height="35"/><rect class="wd" width="131" height="35"/><path class="rl" d="M0,20H131M27,20V35"/><text class="n" x="8" y="14">InternalRelationship</text><text class="l" x="3" y="31.5">type</text><text class="v" x="30" y="31.5">aEMPTY</text><use href="#xb" x="126.5" y="12.5"/></g>
<g id="q2-InternalRelationship-attributes" transform="translate(866.5,2127.5)"><path class="w" d="M15.5,-26.5H88.5V-6.5H122V61.5H15.5Z"/><use href="#mb" x="21" y="-21.5"/><text class="i" x="35" y="-13">attributes</text></g>
<g id="q2-InternalRelationship-Delimiter" transform="translate(889.5,2128.5)"><rect class="sh" x="3" y="3" width="89" height="50"/><rect class="wd" width="89" height="50"/><path class="rl" d="M0,20H89M0,35H89M39,20V50"/><text class="n" x="8" y="14">Delimiter</text><text class="l" x="3" y="31.5">type</text><text class="v" x="42" y="31.5">xs:string</text><text class="l" x="3" y="46.5">default</text><text class="v" x="42" y="46.5">+</text></g>

<g id="q2-IDs" transform="translate(735.5,2280.5)"><rect class="sh" x="3" y="3" width="80" height="35"/><rect class="wd" width="80" height="35"/><path class="rl" d="M0,20H80M27,20V35"/><text class="n" x="8" y="14">IDs</text><text class="l" x="3" y="31.5">type</text><text class="v" x="30" y="31.5">aEMPTY</text><use href="#xb" x="75.5" y="12.5"/></g>
<g id="q2-IDs-attributes" transform="translate(815.5,2280.5)"><path class="w" d="M15.5,-26.5H88.5V-6.5H122V61.5H15.5Z"/><use href="#mb" x="21" y="-21.5"/><text class="i" x="35" y="-13">attributes</text></g>
<g id="q2-IDs-Delimiter" transform="translate(838.5,2281.5)"><rect class="sh" x="3" y="3" width="89" height="50"/><rect class="wd" width="89" height="50"/><path class="rl" d="M0,20H89M0,35H89M39,20V50"/><text class="n" x="8" y="14">Delimiter</text><text class="l" x="3" y="31.5">type</text><text class="v" x="42" y="31.5">xs:string</text><text class="l" x="3" y="46.5">default</text><text class="v" x="42" y="46.5">+</text></g>

<g id="q2-any" transform="translate(735.5,2379.5)"><use href="#oany" class="sh" x="3" y="3"/><use href="#oany" class="wd"/><text class="l" x="5" y="14">any</text><text class="n" x="27" y="14">##other</text></g>

<g id="q2-Standards" transform="translate(735.5,2466.5)"><rect class="sh" x="3" y="3" width="80" height="35"/><rect class="wd" width="80" height="35"/><path class="rl" d="M0,20H80M27,20V35"/><text class="n" x="8" y="14">Standards</text><text class="l" x="3" y="31.5">type</text><text class="v" x="30" y="31.5">aEMPTY</text><use href="#xb" x="75.5" y="12.5"/></g>
<g id="q2-Standards-attributes" transform="translate(815.5,2466.5)"><path class="w" d="M15.5,-26.5H88.5V-6.5H122V61.5H15.5Z"/><use href="#mb" x="21" y="-21.5"/><text class="i" x="35" y="-13">attributes</text></g>
<g id="q2-Standards-Delimiter" transform="translate(838.5,2467.5)"><rect class="sh" x="3" y="3" width="89" height="50"/><rect class="wd" width="89" height="50"/><path class="rl" d="M0,20H89M0,35H89M39,20V50"/><text class="n" x="8" y="14">Delimiter</text><text class="l" x="3" y="31.5">type</text><text class="v" x="42" y="31.5">xs:string</text><text class="l" x="3" y="46.5">default</text><text class="v" x="42" y="46.5">+</text></g>

<g id="q2-StandardName" transform="translate(735.5,2565.5)"><rect class="sh" x="3" y="3" width="96" height="35"/><rect class="wd" width="96" height="35"/><path class="rl" d="M0,20H96M27,20V35"/><text class="n" x="8" y="14">StandardName</text><text class="l" x="3" y="31.5">type</text><text class="v" x="30" y="31.5">EMPTY</text></g>
<g id="q2-StandardGrades" transform="translate(735.5,2613.5)"><rect class="sh" x="3" y="3" width="105" height="35"/><rect class="wd" width="105" height="35"/><path class="rl" d="M0,20H105M27,20V35"/><text class="n" x="8" y="14">StandardGrades</text><text class="l" x="3" y="31.5">type</text><text class="v" x="30" y="31.5">EMPTY</text></g>
<g id="q2-StandardLink" transform="translate(735.5,2661.5)"><rect class="sh" x="3" y="3" width="89" height="35"/><rect class="wd" width="89" height="35"/><path class="rl" d="M0,20H89M27,20V35"/><text class="n" x="8" y="14">StandardLink</text><text class="l" x="3" y="31.5">type</text><text class="v" x="30" y="31.5">EMPTY</text></g>

<g id="q2-StandardLevel" transform="translate(735.5,2763.5)"><rect class="sh" x="3" y="3" width="100" height="35"/><rect class="wd" width="100" height="35"/><path class="rl" d="M0,20H100M27,20V35"/><text class="n" x="8" y="14">StandardLevel</text><text class="l" x="3" y="31.5">type</text><text class="v" x="30" y="31.5">bEMPTY</text><use href="#xb" x="95.5" y="12.5"/></g>
<g id="q2-StandardLevel-attributes" transform="translate(835.5,2763.5)"><path class="w" d="M15.5,-26.5H88.5V-6.5H127.5V61.5H15.5Z"/><use href="#mb" x="21" y="-21.5"/><text class="i" x="35" y="-13">attributes</text></g>
<g id="q2-StandardLevel-Level" transform="translate(858.5,2764.5)"><rect class="sh" x="3" y="3" width="94" height="50"/><rect class="wd" width="94" height="50"/><path class="rl" d="M0,20H94M0,35H94M39,20V50"/><text class="n" x="8" y="14">Level</text><text class="l" x="3" y="31.5">type</text><text class="v" x="42" y="31.5">xs:integer</text><text class="l" x="3" y="46.5">default</text><text class="v" x="42" y="46.5">1</text></g>

<g id="q2-ExternalResources" transform="translate(735.5,2917.5)"><rect class="sh" x="3" y="3" width="126" height="35"/><rect class="wd" width="126" height="35"/><path class="rl" d="M0,20H126M27,20V35"/><text class="n" x="8" y="14">ExternalResources</text><text class="l" x="3" y="31.5">type</text><text class="v" x="30" y="31.5">aEMPTY</text><use href="#xb" x="121.5" y="12.5"/></g>
<g id="q2-ExternalResources-attributes" transform="translate(861.5,2917.5)"><path class="w" d="M15.5,-26.5H88.5V-6.5H122V61.5H15.5Z"/><use href="#mb" x="21" y="-21.5"/><text class="i" x="35" y="-13">attributes</text></g>
<g id="q2-ExternalResources-Delimiter" transform="translate(884.5,2918.5)"><rect class="sh" x="3" y="3" width="89" height="50"/><rect class="wd" width="89" height="50"/><path class="rl" d="M0,20H89M0,35H89M39,20V50"/><text class="n" x="8" y="14">Delimiter</text><text class="l" x="3" y="31.5">type</text><text class="v" x="42" y="31.5">xs:string</text><text class="l" x="3" y="46.5">default</text><text class="v" x="42" y="46.5">+</text></g>
</g>

<g id="n-Authentication" transform="translate(157.5,5470.5)"><rect class="sh" x="3" y="3" width="132" height="35"/><rect class="w" width="132" height="35"/><path class="rl" d="M0,20H132M27,20V35"/><text class="n" x="8" y="14">Authentication</text><text class="l" x="3" y="31.5">type</text><text class="v" x="30" y="31.5">AuthenticationCode</text><use href="#xb" x="127.5" y="12.5"/></g>
<g id="n-Authentication-model" transform="translate(306.5,5477.5)"><use href="#o34" class="sh" x="3" y="3"/><use href="#o34" class="w"/><use href="#ya"/><use href="#xb" x="34" y="5.5"/></g>
<g id="n-Authentication-Operation" transform="translate(377.5,5361.5)"><rect class="sh" x="3" y="3" width="179" height="35"/><rect class="w" width="179" height="35"/><path class="rl" d="M0,20H179M27,20V35"/><use href="#eq"/><text class="n" x="8" y="14">Operation</text><text class="l" x="3" y="31.5">type</text><text class="v" x="30" y="31.5">authenticationCodeOperations</text></g>
<g id="n-Authentication-PublishName" transform="translate(377.5,5409.5)"><rect class="sh" x="3" y="3" width="188" height="65"/><rect class="w" width="188" height="65"/><path class="rl" d="M0,20H188M0,35H188M0,50H188M62,20V65M125,35V50"/><use href="#eq"/><use href="#ar"/><text class="n" x="8" y="14">PublishName</text><text class="l" x="3" y="31.5">type</text><text class="v" x="65" y="31.5">AuthenticationCodeType</text><text class="l" x="3" y="46.5">min/maxLen</text><text class="v" x="128" y="46.5">255</text><text class="l" x="3" y="61.5">pattern</text><text class="v" x="65" y="61.5">.[\S\s]*</text></g>
<g id="n-Authentication-AuthenticationCode" transform="translate(377.5,5487.5)"><rect class="sh" x="3" y="3" width="188" height="65"/><rect class="w" width="188" height="65"/><path class="rl" d="M0,20H188M0,35H188M0,50H188M62,20V65M125,35V50"/><use href="#eq"/><use href="#ar"/><text class="n" x="8" y="14">AuthenticationCode</text><text class="l" x="3" y="31.5">type</text><text class="v" x="65" y="31.5">AuthenticationCodeType</text><text class="l" x="3" y="46.5">min/maxLen</text><text class="v" x="128" y="46.5">255</text><text class="l" x="3" y="61.5">pattern</text><text class="v" x="65" y="61.5">.[\S\s]*</text></g>
<g id="n-Authentication-NewAuthenticationCode" transform="translate(377.5,5565.5)"><rect class="sh" x="3" y="3" width="188" height="65"/><rect class="w" width="188" height="65"/><path class="rl" d="M0,20H188M0,35H188M0,50H188M62,20V65M125,35V50"/><use href="#eq"/><use href="#ar"/><text class="n" x="8" y="14">NewAuthenticationCode</text><text class="l" x="3" y="31.5">type</text><text class="v" x="65" y="31.5">AuthenticationCodeType</text><text class="l" x="3" y="46.5">min/maxLen</text><text class="v" x="128" y="46.5">255</text><text class="l" x="3" y="61.5">pattern</text><text class="v" x="65" y="61.5">.[\S\s]*</text></g>
</g>

<g id="footer"><text class="f" x="900.5" y="5673">Generated with XMLSpy Schema Editor</text><text class="f" x="1231.5" y="5673" text-anchor="end">www.altova.com</text></g>
</svg>
